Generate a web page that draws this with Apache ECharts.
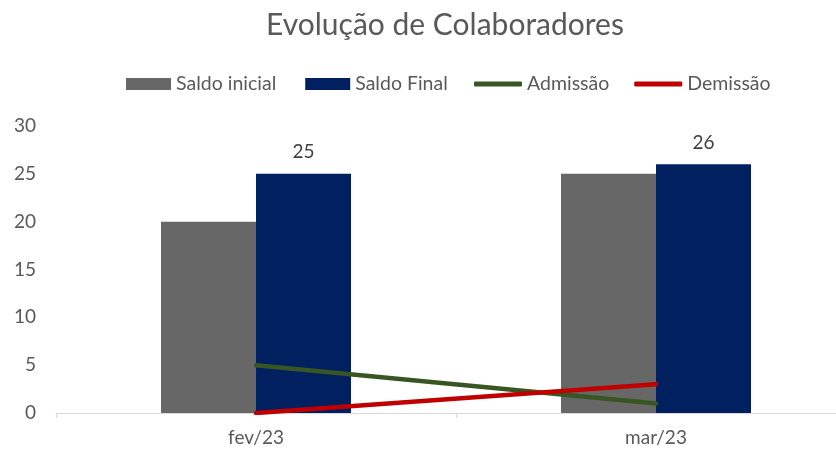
<!DOCTYPE html>
<html>
<head>
<meta charset="utf-8">
<script src="https://cdn.jsdelivr.net/npm/echarts@6/dist/echarts.min.js"></script>
<style>html,body{margin:0;padding:0;background:#fff;overflow:hidden}#c{width:856px;height:449px}</style>
</head>
<body>
<div id="c"></div>
<script>
const titleText = 'Evolução de Colaboradores';
const categories = ['fev/23', 'mar/23'];
const saldoInicial = [20, 25];
const saldoFinal = [25, 26];
const admissao = [5, 1];
const demissao = [0, 3];
const seriesNames = ['Saldo inicial', 'Saldo Final', 'Admissão', 'Demissão'];

const FONT = 'Lato';
const chart = echarts.init(document.getElementById('c'), null, {renderer: 'canvas'});
chart.setOption({
  animation: false,
  backgroundColor: '#ffffff',
  title: {
    text: titleText,
    left: 440, top: 5, textAlign: 'center',
    textStyle: {fontFamily: FONT, fontSize: 30, fontWeight: 'normal', color: '#595959'}
  },
  legend: [
    {
      left: 121, top: 69,
      itemWidth: 45, itemHeight: 12, itemGap: 29,
      textStyle: {fontFamily: FONT, fontSize: 19.5, color: '#595959'},
      data: [
        {name: seriesNames[0], icon: 'rect'},
        {name: seriesNames[1], icon: 'rect'}
      ]
    },
    {
      left: 469, top: 69,
      itemWidth: 48, itemHeight: 5, itemGap: 25,
      textStyle: {fontFamily: FONT, fontSize: 19.5, color: '#595959'},
      data: [
        {name: seriesNames[2], icon: 'roundRect'},
        {name: seriesNames[3], icon: 'roundRect'}
      ]
    }
  ],
  grid: {left: 56, right: 0, top: 126, bottom: 36, containLabel: false},
  xAxis: {
    type: 'category',
    data: categories,
    axisLine: {lineStyle: {color: '#d9d9d9', width: 1}},
    axisTick: {show: true, length: 5, lineStyle: {color: '#d9d9d9'}},
    axisLabel: {fontFamily: FONT, fontSize: 19, color: '#595959', margin: 15},
    splitLine: {show: false}
  },
  yAxis: {
    type: 'value', min: 0, max: 30, interval: 5,
    axisLine: {show: false}, axisTick: {show: false},
    splitLine: {show: false},
    axisLabel: {fontFamily: FONT, fontSize: 19, color: '#595959', margin: 20}
  },
  series: [
    {name: seriesNames[0], type: 'bar', data: saldoInicial, barWidth: 95, barGap: '0%',
     itemStyle: {color: '#676767'}},
    {name: seriesNames[1], type: 'bar', data: saldoFinal, barWidth: 95, barGap: '0%',
     itemStyle: {color: '#002060'},
     label: {show: true, position: 'top', distance: 12, fontFamily: FONT, fontSize: 19, color: '#404040'}},
    {name: seriesNames[2], type: 'line', data: admissao, symbol: 'none', z: 5,
     lineStyle: {color: '#375623', width: 4.5, cap: 'round'}, itemStyle: {color: '#375623'}},
    {name: seriesNames[3], type: 'line', data: demissao, symbol: 'none', z: 5,
     lineStyle: {color: '#C00000', width: 4.5, cap: 'round'}, itemStyle: {color: '#C00000'}}
  ]
});
</script>
</body>
</html>
